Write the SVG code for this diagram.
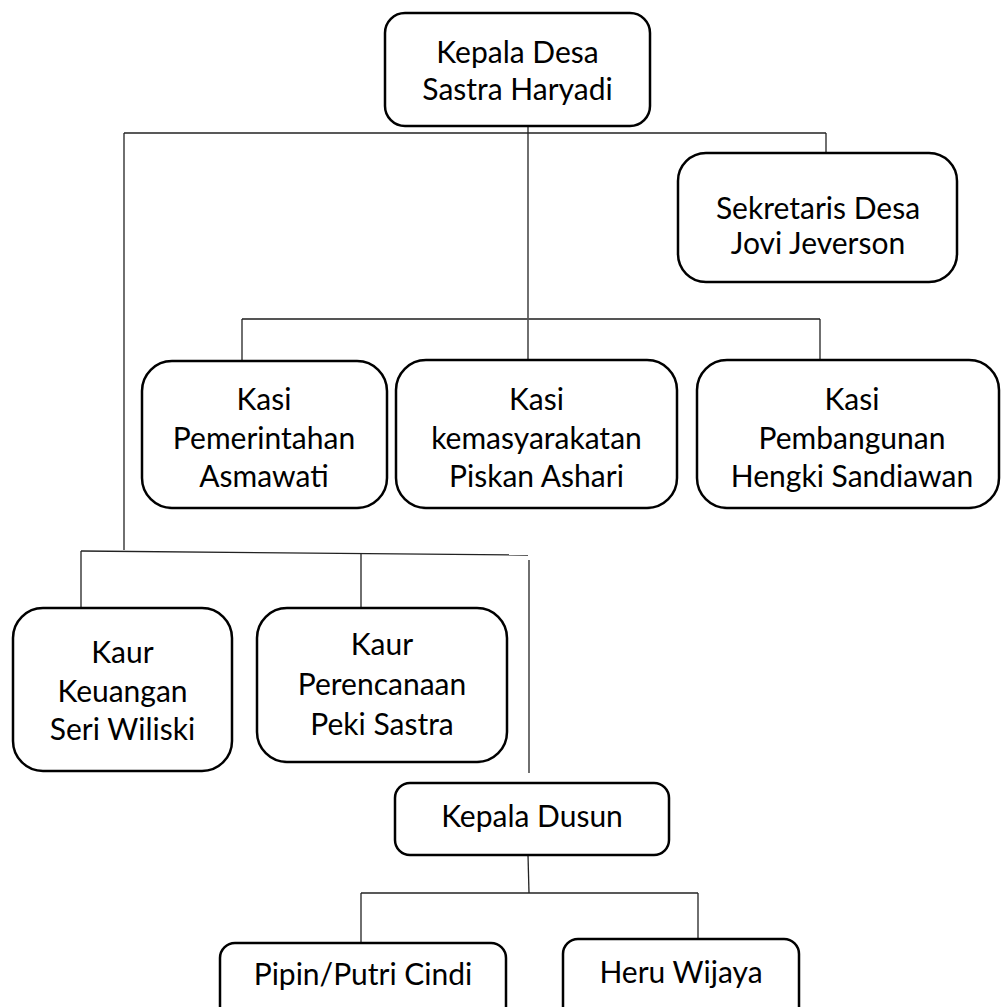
<svg xmlns="http://www.w3.org/2000/svg" width="1001" height="1007" viewBox="0 0 1001 1007">
<style>
  .box { fill: #fff; stroke: #000; stroke-width: 2.5; }
  .lbl { font-family: Lato, "Liberation Sans", sans-serif; font-size: 30px; fill: #000; text-anchor: middle; }
  .ln { stroke: #222; stroke-width: 1.3; fill: none; }
  .ln2 { stroke: #555; stroke-width: 1.8; fill: none; }
</style>
<rect width="1001" height="1007" fill="#fff"/>
<g id="connectors">
  <line class="ln" x1="124" y1="133" x2="826" y2="133"/>
  <line class="ln" x1="826" y1="133" x2="826" y2="153"/>
  <line class="ln" x1="124" y1="133" x2="124" y2="550"/>
  <line class="ln" x1="528" y1="117" x2="528" y2="359"/>
  <line class="ln2" x1="242" y1="319" x2="820" y2="319"/>
  <line class="ln" x1="242" y1="319" x2="242" y2="368"/>
  <line class="ln" x1="820" y1="319" x2="820" y2="368"/>
  <line class="ln" x1="81" y1="551" x2="528" y2="555"/>
  <line class="ln" x1="81" y1="551" x2="81" y2="608"/>
  <line class="ln" x1="361" y1="553" x2="361" y2="608"/>
  <line class="ln" x1="529" y1="560" x2="529" y2="773"/>
  <line class="ln" x1="528" y1="855" x2="529" y2="893"/>
  <line class="ln" x1="361" y1="893" x2="698" y2="893"/>
  <line class="ln" x1="361" y1="893" x2="361" y2="943"/>
  <line class="ln" x1="698" y1="893" x2="698" y2="946"/>
</g>
<g id="kepala-desa">
  <rect class="box" x="385" y="13" width="265" height="113" rx="20"/>
  <text class="lbl" x="517.5" y="63">Kepala Desa</text>
  <text class="lbl" x="517.5" y="100">Sastra Haryadi</text>
</g>
<g id="sekretaris">
  <rect class="box" x="678" y="153" width="279" height="129" rx="28"/>
  <text class="lbl" x="818" y="219">Sekretaris Desa</text>
  <text class="lbl" x="818" y="254">Jovi Jeverson</text>
</g>
<g id="kasi-pemerintahan">
  <rect class="box" x="142" y="361" width="245" height="147" rx="30"/>
  <text class="lbl" x="264" y="410">Kasi</text>
  <text class="lbl" x="264" y="449">Pemerintahan</text>
  <text class="lbl" x="264" y="487">Asmawati</text>
</g>
<g id="kasi-kemasyarakatan">
  <rect class="box" x="396" y="360" width="281" height="148" rx="30"/>
  <text class="lbl" x="536.5" y="410">Kasi</text>
  <text class="lbl" x="536.5" y="449">kemasyarakatan</text>
  <text class="lbl" x="536.5" y="487">Piskan Ashari</text>
</g>
<g id="kasi-pembangunan">
  <rect class="box" x="697" y="360" width="302" height="148" rx="30"/>
  <text class="lbl" x="852" y="410">Kasi</text>
  <text class="lbl" x="852" y="449">Pembangunan</text>
  <text class="lbl" x="852" y="487">Hengki Sandiawan</text>
</g>
<g id="kaur-keuangan">
  <rect class="box" x="13" y="608" width="219" height="163" rx="30"/>
  <text class="lbl" x="122.5" y="663">Kaur</text>
  <text class="lbl" x="122.5" y="702">Keuangan</text>
  <text class="lbl" x="122.5" y="740">Seri Wiliski</text>
</g>
<g id="kaur-perencanaan">
  <rect class="box" x="257" y="608" width="250" height="154" rx="30"/>
  <text class="lbl" x="382" y="655">Kaur</text>
  <text class="lbl" x="382" y="695">Perencanaan</text>
  <text class="lbl" x="382" y="735">Peki Sastra</text>
</g>
<g id="kepala-dusun">
  <rect class="box" x="395" y="783" width="274" height="72" rx="15"/>
  <text class="lbl" x="532" y="827">Kepala Dusun</text>
</g>
<g id="pipin">
  <rect class="box" x="220" y="943" width="286" height="80" rx="15"/>
  <text class="lbl" x="363" y="985">Pipin/Putri Cindi</text>
</g>
<g id="heru">
  <rect class="box" x="563" y="939" width="236" height="84" rx="15"/>
  <text class="lbl" x="681" y="983">Heru Wijaya</text>
</g>
</svg>
